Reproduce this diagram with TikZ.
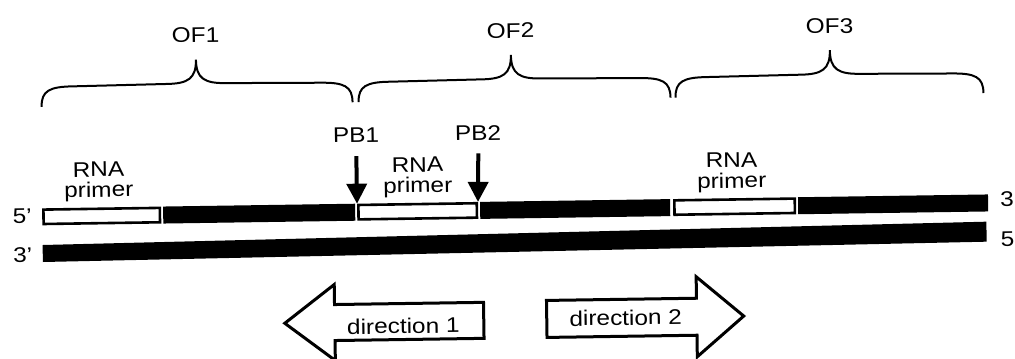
\documentclass[tikz,border=0pt]{standalone}
\usepackage{fontspec}
\setmainfont{Liberation Sans}[FakeStretch=1.15]
\usetikzlibrary{arrows.meta}
\newcommand\ofbrace[3]{%
  \draw[brace] (#1,100) .. controls (#1,84) and (#1+8,80) .. (#1+32,80)
    -- (#2-30,79) .. controls (#2-8,79) and (#2,74) .. (#2,55)
    .. controls (#2,74) and (#2+8,79) .. (#2+30,79)
    -- (#3-32,80) .. controls (#3-8,80) and (#3,84) .. (#3,100);}
\begin{document}
\begin{tikzpicture}[x=0.5pt,y=-0.5pt,
  txt/.style={font=\fontsize{10.6}{12}\selectfont, inner sep=0pt},
  twoline/.style={font=\fontsize{10.6}{10.2}\selectfont, inner sep=0pt, align=center, anchor=south},
  primer/.style={draw, fill=white, line width=1.3pt, inner sep=0pt, minimum height=7.2pt},
  dna/.style={fill=black, inner sep=0pt, minimum height=8.5pt},
  brace/.style={line width=1pt},
  pbarrow/.style={line width=2pt, -{Triangle[width=10pt,length=10pt]}},
  dirarrow/.style={line width=1.5pt, fill=white, line join=miter}]
\useasboundingbox (0,0) rectangle (1015,358);
\begin{scope}[rotate around={0.84:(507,200)}, transform shape]
  % braces
  \ofbrace{43}{198}{354}
  \ofbrace{360}{513}{672}
  \ofbrace{677}{832}{985}
  \node[txt, anchor=base] (of1) at (198,38) {OF1};
  \node[txt, anchor=base] (of2) at (513,38) {OF2};
  \node[txt, anchor=base] (of3) at (832,38) {OF3};
  % top strand
  \node[primer, minimum width=58.2pt] (primer1) at (101.5,210) {};
  \node[dna, minimum width=96pt] (dna1) at (259,210) {};
  \node[primer, minimum width=59.2pt] (primer2) at (417.5,210) {};
  \node[dna, minimum width=95pt] (dna2) at (575,210) {};
  \node[primer, minimum width=60.2pt] (primer3) at (734.5,210) {};
  \node[dna, minimum width=95pt] (dna3) at (893,210) {};
  % bottom strand
  \fill (42,238.2) -- (986,228.7) -- (986,248.7) -- (42,255.2) -- cycle;
  % end labels
  \node[txt, anchor=base] (l5) at (22,216) {5'};
  \node[txt, anchor=base] (l3) at (22,255) {3'};
  \node[txt, anchor=base] (r3) at (1007,214) {3};
  \node[txt, anchor=base] (r5) at (1007,254) {5};
  % primer labels
  \node[twoline] (rp1) at (99,196) {RNA\\primer};
  \node[twoline] (rp2) at (418,196) {RNA\\primer};
  \node[twoline] (rp3) at (732,196) {RNA\\primer};
  % PB arrows
  \node[txt, anchor=base] (pb1) at (357,140) {PB1};
  \node[txt, anchor=base] (pb2) at (479,140) {PB2};
  \coordinate (pb1s) at (357,154);
  \coordinate (pb2s) at (479,153);
  \draw[pbarrow] (pb1s) -- (primer2.north west);
  \draw[pbarrow] (pb2s) -- (primer2.north east);
  % direction arrows
  \draw[dirarrow] (482,302) -- (333,302) -- (333,282) -- (283,320) -- (333,358) -- (333,338) -- (482,338) -- cycle;
  \draw[dirarrow] (545,301) -- (695,301) -- (695,279.5) -- (742,319.5) -- (695,359.5) -- (695,338) -- (545,338) -- cycle;
  \node[txt, anchor=base] (d1) at (401.5,332) {direction 1};
  \node[txt, anchor=base] (d2) at (624,327) {direction 2};
\end{scope}
\end{tikzpicture}
\end{document}
